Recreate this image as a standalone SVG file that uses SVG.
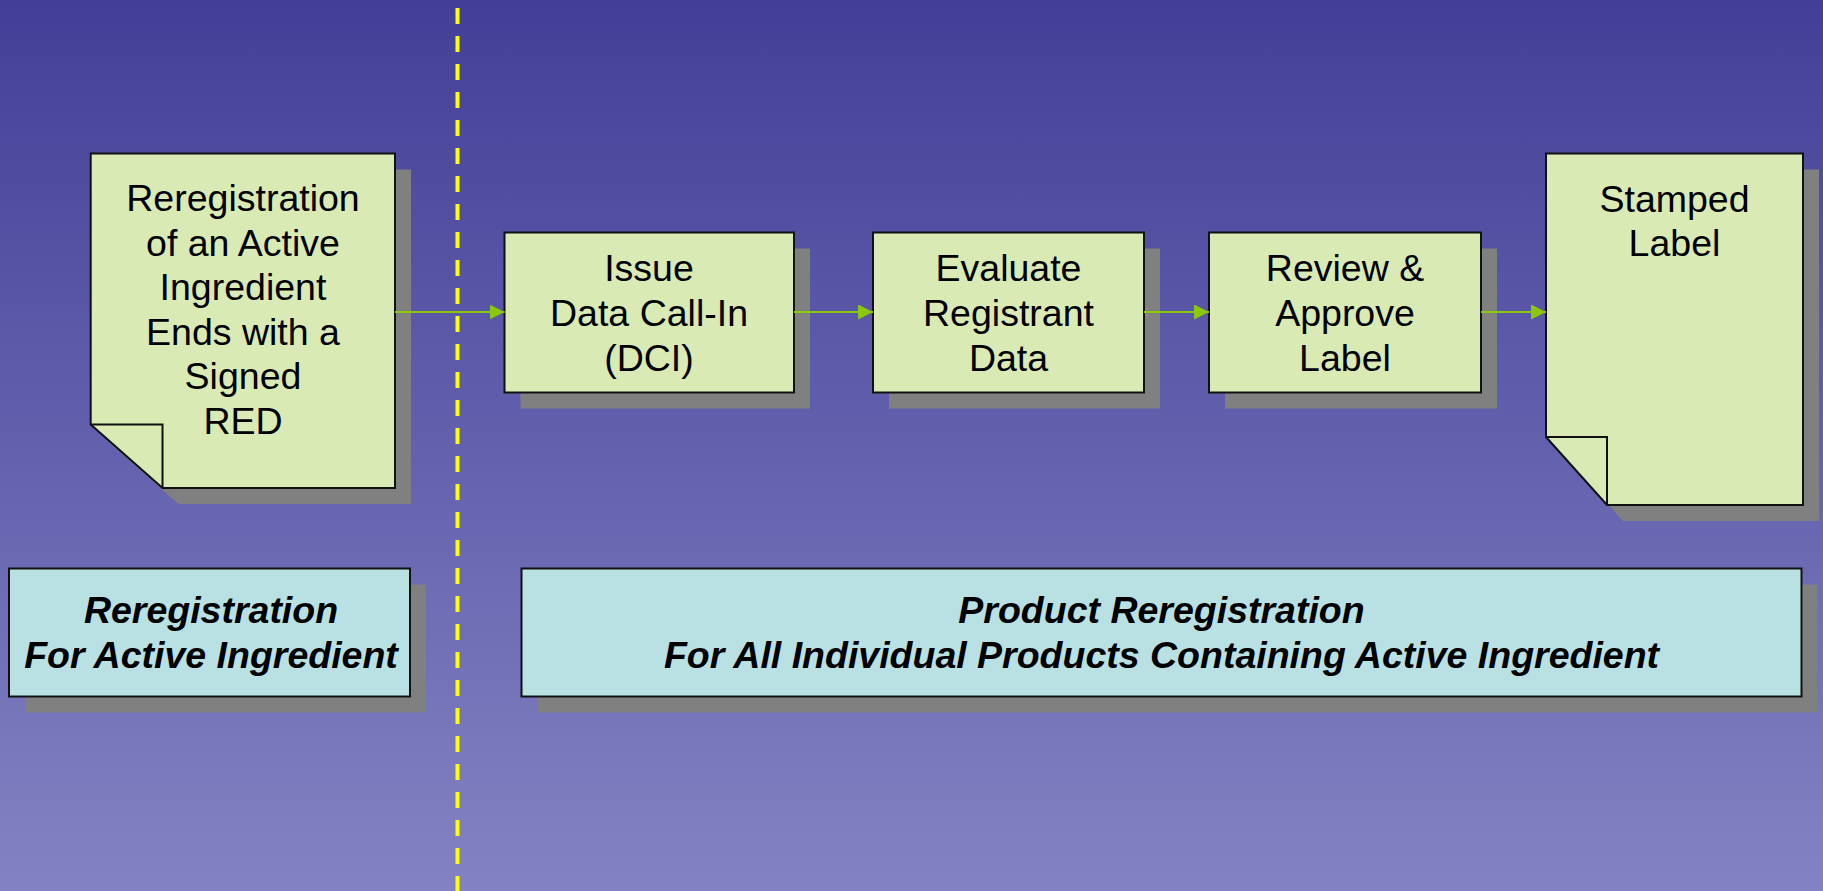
<svg xmlns="http://www.w3.org/2000/svg" width="1823" height="891" viewBox="0 0 1823 891">
  <defs>
    <linearGradient id="bg" x1="0" y1="0" x2="0" y2="1">
      <stop offset="0" stop-color="#433F98"/>
      <stop offset="1" stop-color="#8383C3"/>
    </linearGradient>
    <marker id="arrow" viewBox="0 0 15 15" refX="15" refY="7.5" markerWidth="15" markerHeight="15" markerUnits="userSpaceOnUse" orient="auto">
      <path d="M0,0 L15,7.5 L0,15 Z" fill="#8CC80A"/>
    </marker>
  </defs>
  <style>
    .shadow { fill: #808080; }
    .step { fill: #D9EAB4; stroke: #111; stroke-width: 2; }
    .band { fill: #B9E0E3; stroke: #111; stroke-width: 2; }
    .fold { fill: none; stroke: #111; stroke-width: 2; }
    .lbl { font-family: "Liberation Sans", Arial, sans-serif; font-size: 37.5px; fill: #000; text-anchor: middle; }
    .cap { font-family: "Liberation Sans", Arial, sans-serif; font-size: 37.5px; font-weight: bold; font-style: italic; fill: #000; text-anchor: middle; }
    .link { stroke: #8CC80A; stroke-width: 2; fill: none; marker-end: url(#arrow); }
  </style>

  <rect x="0" y="0" width="1823" height="891" fill="url(#bg)"/>

  <!-- phase divider -->
  <line x1="457.5" y1="8" x2="457.5" y2="891" stroke="#FFFF00" stroke-width="4" stroke-dasharray="16 12"/>

  <!-- document: signed RED -->
  <g id="doc-red">
    <path class="shadow" d="M106.7,169.5 H411 V504 H178.5 L106.7,440.5 Z"/>
    <path class="step" d="M90.7,153.5 H395 V488 H162.5 L90.7,424.5 Z"/>
    <path class="fold" d="M90.7,424.5 H162.5 V488"/>
    <text class="lbl" x="243" y="211">Reregistration</text>
    <text class="lbl" x="243" y="256">of an Active</text>
    <text class="lbl" x="243" y="300">Ingredient</text>
    <text class="lbl" x="243" y="345">Ends with a</text>
    <text class="lbl" x="243" y="389">Signed</text>
    <text class="lbl" x="243" y="434">RED</text>
  </g>

  <!-- step: issue DCI -->
  <g id="step-dci">
    <rect class="shadow" x="520.5" y="248.5" width="289.5" height="160"/>
    <rect class="step" x="504.5" y="232.5" width="289.5" height="160"/>
    <text class="lbl" x="649" y="281">Issue</text>
    <text class="lbl" x="649" y="326">Data Call-In</text>
    <text class="lbl" x="649" y="370.5">(DCI)</text>
  </g>

  <!-- step: evaluate data -->
  <g id="step-evaluate">
    <rect class="shadow" x="889" y="248.5" width="271" height="160"/>
    <rect class="step" x="873" y="232.5" width="271" height="160"/>
    <text class="lbl" x="1008.5" y="281">Evaluate</text>
    <text class="lbl" x="1008.5" y="326">Registrant</text>
    <text class="lbl" x="1008.5" y="370.5">Data</text>
  </g>

  <!-- step: review label -->
  <g id="step-review">
    <rect class="shadow" x="1225" y="248.5" width="272" height="160"/>
    <rect class="step" x="1209" y="232.5" width="272" height="160"/>
    <text class="lbl" x="1345" y="281">Review &amp;</text>
    <text class="lbl" x="1345" y="326">Approve</text>
    <text class="lbl" x="1345" y="370.5">Label</text>
  </g>

  <!-- document: stamped label -->
  <g id="doc-label">
    <path class="shadow" d="M1562,169.5 H1819 V521 H1623 L1562,453 Z"/>
    <path class="step" d="M1546,153.5 H1803 V505 H1607 L1546,437 Z"/>
    <path class="fold" d="M1546,437 H1607 V505"/>
    <text class="lbl" x="1674.5" y="212">Stamped</text>
    <text class="lbl" x="1674.5" y="255.5">Label</text>
  </g>

  <!-- phase captions -->
  <g id="phase-ingredient">
    <rect class="shadow" x="25" y="584.5" width="401" height="128"/>
    <rect class="band" x="9" y="568.5" width="401" height="128"/>
    <text class="cap" x="211" y="623">Reregistration</text>
    <text class="cap" x="211" y="668">For Active Ingredient</text>
  </g>

  <g id="phase-product">
    <rect class="shadow" x="537.5" y="584.5" width="1280" height="128"/>
    <rect class="band" x="521.5" y="568.5" width="1280" height="128"/>
    <text class="cap" x="1161.5" y="623">Product Reregistration</text>
    <text class="cap" x="1161.5" y="668">For All Individual Products Containing Active Ingredient</text>
  </g>

  <!-- flow connectors -->
  <g id="connectors">
    <line class="link" x1="395" y1="312" x2="504.5" y2="312"/>
    <line class="link" x1="794" y1="312" x2="873" y2="312"/>
    <line class="link" x1="1144" y1="312" x2="1209" y2="312"/>
    <line class="link" x1="1481" y1="312" x2="1546" y2="312"/>
  </g>
</svg>
